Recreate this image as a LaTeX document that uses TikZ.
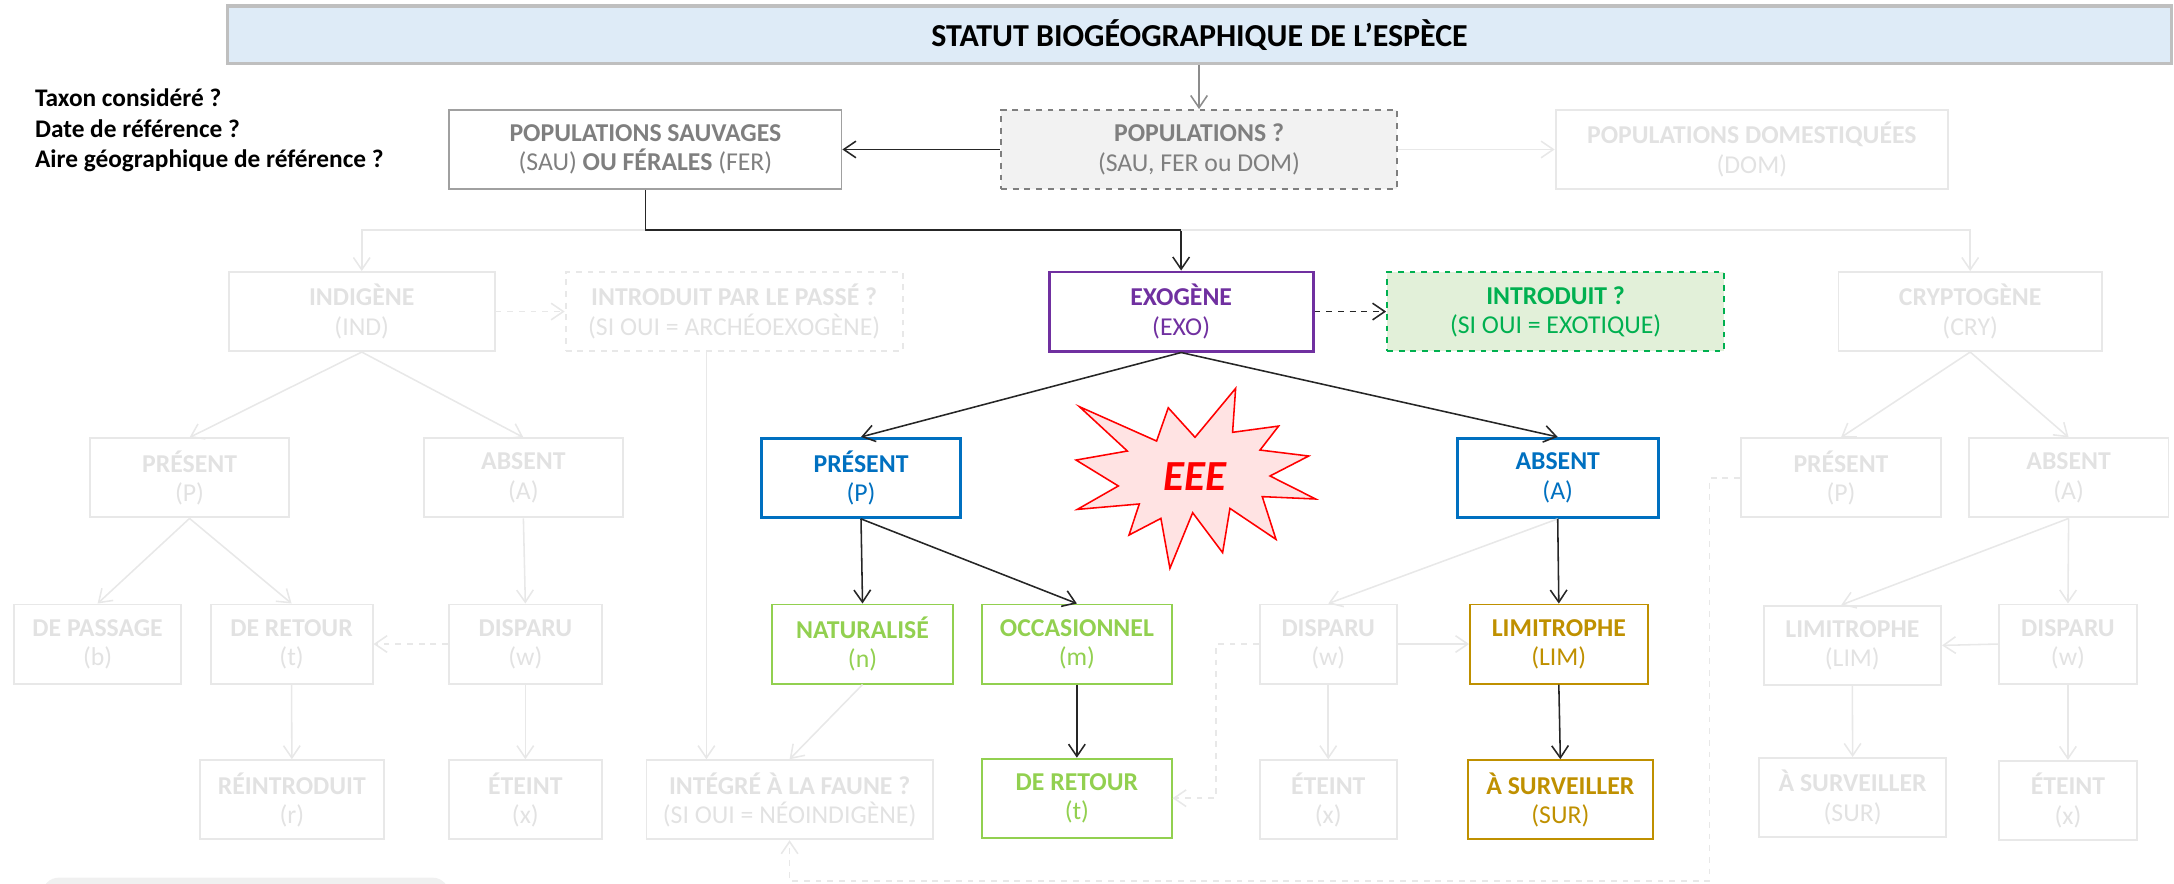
\documentclass[tikz,border=0pt]{standalone}
\usepackage{fontspec}
\setmainfont{Carlito}
\usetikzlibrary{arrows.meta}
\usepackage{xcolor}

\definecolor{titlefill}{HTML}{DEEBF7}
\definecolor{titleline}{HTML}{BFBFBF}
\definecolor{midgray}{HTML}{7F7F7F}
\definecolor{popline}{HTML}{A0A0A0}
\definecolor{qfill}{HTML}{F2F2F2}
\definecolor{fadeline}{HTML}{E8E8E8}
\definecolor{fadetext}{HTML}{E2E2E2}
\definecolor{exopurple}{HTML}{7030A0}
\definecolor{introgreen}{HTML}{00B050}
\definecolor{introfill}{HTML}{E2F0D9}
\definecolor{statblue}{HTML}{0070C0}
\definecolor{leafgreen}{HTML}{92D050}
\definecolor{limgold}{HTML}{BF9000}
\definecolor{eeefill}{HTML}{FFE3E3}

\newcommand{\boxfont}{\fontsize{13.2}{15}\selectfont}
\newcommand{\titlefont}{\fontsize{16.4}{19}\selectfont\bfseries}
\newcommand{\questfont}{\fontsize{13}{15.6}\selectfont\bfseries}
\newcommand{\eeefont}{\fontsize{22}{24}\selectfont\bfseries\itshape}

\tikzset{
  statbox/.style={draw, align=center, minimum height=14.25mm, inner sep=1pt, font=\boxfont},
  fadebox/.style={statbox, draw=fadeline, text=fadetext, line width=1pt},
  fadedashbox/.style={fadebox, dashed},
  popbox/.style={statbox, draw=popline, text=midgray, line width=0.8pt},
  qbox/.style={statbox, draw=midgray, fill=qfill, text=midgray, dashed, line width=0.9pt},
  exobox/.style={statbox, draw=exopurple, text=exopurple, line width=1.5pt},
  introbox/.style={statbox, draw=introgreen, fill=introfill, text=introgreen, dashed, line width=0.9pt},
  bluebox/.style={statbox, draw=statblue, text=statblue, line width=1.5pt},
  grnbox/.style={statbox, draw=leafgreen, text=leafgreen, line width=1pt},
  goldbox/.style={statbox, draw=limgold, text=limgold, line width=1pt},
  link/.style={draw=black!85, line width=0.8pt, -{Straight Barb[length=2.2mm,width=3mm]}},
  fadelink/.style={link, draw=fadeline},
  fadedash/.style={fadelink, dashed},
}

\begin{document}
\begin{tikzpicture}[x=0.25mm, y=-0.25mm]
\useasboundingbox (0,0) rectangle (1568,637);

% title and questions
\node[draw=titleline, fill=titlefill, line width=1.6pt, font=\titlefont, minimum width=350.4mm, minimum height=10.35mm] (title) at (865.2,25) {STATUT BIOGÉOGRAPHIQUE DE L’ESPÈCE};
\node[anchor=west, align=left, inner sep=0pt, font=\questfont] (quest) at (25,94) {Taxon considéré ?\\Date de référence ?\\Aire géographique de référence ?};

% populations
\node[popbox, minimum width=70.75mm] (popsau) at (465.5,107.8) {\textbf{POPULATIONS SAUVAGES}\\(SAU) \textbf{OU FÉRALES} (FER)};
\node[qbox, minimum width=71.4mm] (popq) at (864.8,107.8) {\textbf{POPULATIONS ?}\\(SAU, FER ou DOM)};
\node[fadebox, minimum width=70.75mm] (popdom) at (1263.5,107.8) {\textbf{POPULATIONS DOMESTIQUÉES}\\(DOM)};

% origin
\node[fadebox, minimum width=47.9mm] (ind) at (260.9,224.7) {\textbf{INDIGÈNE}\\(IND)};
\node[fadedashbox, minimum width=60.75mm] (intpasse) at (529.5,224.7) {\textbf{INTRODUIT PAR LE PASSÉ ?}\\(SI OUI = ARCHÉOEXOGÈNE)};
\node[exobox, minimum width=47.6mm] (exo) at (851.9,224.7) {\textbf{EXOGÈNE}\\(EXO)};
\node[introbox, minimum width=60.8mm] (intro) at (1122,224.7) {\textbf{INTRODUIT ?}\\(SI OUI = EXOTIQUE)};
\node[fadebox, minimum width=47.5mm] (cry) at (1421,224.7) {\textbf{CRYPTOGÈNE}\\(CRY)};

% present / absent
\node[fadebox, minimum width=35.9mm] (indP) at (136.7,344.7) {\textbf{PRÉSENT}\\(P)};
\node[fadebox, minimum width=35.75mm] (indA) at (377.5,344.7) {\textbf{ABSENT}\\(A)};
\node[bluebox, minimum width=36mm] (exoP) at (621,344.7) {\textbf{PRÉSENT}\\(P)};
\node[bluebox, minimum width=36.25mm] (exoA) at (1123.5,344.7) {\textbf{ABSENT}\\(A)};
\node[fadebox, minimum width=36.1mm] (cryP) at (1327.8,344.7) {\textbf{PRÉSENT}\\(P)};
\node[fadebox, minimum width=36mm] (cryA) at (1492,344.7) {\textbf{ABSENT}\\(A)};

% EEE
\filldraw[draw=red, fill=eeefill, line width=0.8pt] (778.5,293.3) -- (834.2,318.1) -- (842.6,294.1) -- (861.9,315.4) -- (891.2,280.1) -- (889,311.8) -- (922.2,307.3) -- (908.8,324.6) -- (943.9,328.9) -- (916,343.3) -- (948.9,359.9) -- (910.4,358.2) -- (920.3,389) -- (887.1,366.7) -- (881.8,398.6) -- (860.2,369.8) -- (843.8,409.9) -- (837.3,373.9) -- (814.3,385.9) -- (821.7,363.5) -- (777,367.4) -- (806.6,350.5) -- (776.1,331.8) -- (813.1,325.3) -- cycle;
\node[font=\eeefont, text=red] (eee) at (862,344) {EEE};

% third level
\node[fadebox, minimum width=30.1mm] (indPb) at (70.4,464.5) {\textbf{DE PASSAGE}\\(b)};
\node[fadebox, minimum width=29.2mm] (indPt) at (210.3,464.5) {\textbf{DE RETOUR}\\(t)};
\node[fadebox, minimum width=27.55mm] (indAw) at (378.9,464.5) {\textbf{DISPARU}\\(w)};
\node[grnbox, minimum width=32.75mm] (exoPn) at (622.1,464.5) {\textbf{NATURALISÉ}\\(n)};
\node[grnbox, minimum width=34.15mm] (exoPm) at (776.7,464.5) {\textbf{OCCASIONNEL}\\(m)};
\node[fadebox, minimum width=24.7mm] (exoAw) at (958,464.5) {\textbf{DISPARU}\\(w)};
\node[goldbox, minimum width=32mm] (exoAlim) at (1124.3,464.5) {\textbf{LIMITROPHE}\\(LIM)};
\node[fadebox, minimum width=32mm] (cryAlim) at (1336,465.5) {\textbf{LIMITROPHE}\\(LIM)};
\node[fadebox, minimum width=24.75mm] (cryAw) at (1491.5,464.5) {\textbf{DISPARU}\\(w)};

% fourth level
\node[fadebox, minimum width=33.25mm] (indPr) at (210.5,576.8) {\textbf{RÉINTRODUIT}\\(r)};
\node[fadebox, minimum width=27.55mm] (indAx) at (378.9,576.8) {\textbf{ÉTEINT}\\(x)};
\node[fadebox, minimum width=51.6mm] (integre) at (569.5,576.8) {\textbf{INTÉGRÉ À LA FAUNE ?}\\(SI OUI = NÉOINDIGÈNE)};
\node[grnbox, minimum width=34.15mm] (exoPt) at (776.7,575.7) {\textbf{DE RETOUR}\\(t)};
\node[fadebox, minimum width=24.7mm] (exoAx) at (958,576.8) {\textbf{ÉTEINT}\\(x)};
\node[goldbox, minimum width=33.3mm] (exoAsur) at (1125.4,576.8) {\textbf{À SURVEILLER}\\(SUR)};
\node[fadebox, minimum width=33.6mm] (crySur) at (1336.2,575.2) {\textbf{À SURVEILLER}\\(SUR)};
\node[fadebox, minimum width=24.75mm] (cryAx) at (1491.5,577.3) {\textbf{ÉTEINT}\\(x)};

% legend box cut by the page
\fill[black!6, rounded corners=3mm] (30.4,633) rectangle (324,660);

% connectors
\coordinate (split) at (851.9,166);
\coordinate (loop) at (1233,635.4);

\draw[link, draw=black!45] (title.south -| popq.north) -- (popq.north);
\draw[link] (popq.west) -- (popsau.east);
\draw[fadelink] (popq.east) -- (popdom.west);
\draw[link, -] (popsau.south) |- (split);
\draw[link] (split) -- (exo.north);
\draw[fadelink] (popsau.south |- split) -| (ind.north);
\draw[fadelink] (split) -| (cry.north);

\draw[fadedash] (ind.east) -- (intpasse.west);
\draw[link, dashed] (exo.east) -- (intro.west);

\draw[fadelink] (ind.south) -- (indP.north);
\draw[fadelink] (ind.south) -- (indA.north);
\draw[link] (exo.south) -- (exoP.north);
\draw[link] (exo.south) -- (exoA.north);
\draw[fadelink] (cry.south) -- (cryP.north);
\draw[fadelink] (cry.south) -- (cryA.north);

\draw[fadelink] (indP.south) -- (indPb.north);
\draw[fadelink] (indP.south) -- (indPt.north);
\draw[fadelink] (indA.south) -- (indAw.north);
\draw[fadedash] (indAw.west) -- (indPt.east);
\draw[fadelink] (indPt.south) -- (indPr.north);
\draw[fadelink] (indAw.south) -- (indAx.north);
\draw[fadelink] ([xshift=-5mm]intpasse.south) -- ([xshift=-5mm]intpasse.south |- integre.north);

\draw[link] (exoP.south) -- (exoPn.north);
\draw[link] (exoP.south) -- (exoPm.north);
\draw[fadelink] (exoPn.south) -- (integre.north);
\draw[link] (exoPm.south) -- (exoPt.north);
\draw[fadelink] (exoA.south) -- (exoAw.north);
\draw[link] (exoA.south) -- (exoAlim.north);
\draw[fadelink] (exoAw.east) -- (exoAlim.west);
\draw[fadelink] (exoAw.south) -- (exoAx.north);
\draw[link] (exoAlim.south) -- (exoAsur.north);
\draw[fadedash] (exoAw.west) -- ++(-31,0) |- (exoPt.east);

\draw[fadelink] (cryA.south) -- ([xshift=-2mm]cryAlim.north);
\draw[fadelink] (cryA.south) -- (cryAw.north);
\draw[fadelink] (cryAw.west) -- (cryAlim.east);
\draw[fadelink] (cryAlim.south) -- (crySur.north);
\draw[fadelink] (cryAw.south) -- (cryAx.north);
\draw[fadedash] (cryP.west) -| (loop) -| (integre.south);

\end{tikzpicture}
\end{document}
